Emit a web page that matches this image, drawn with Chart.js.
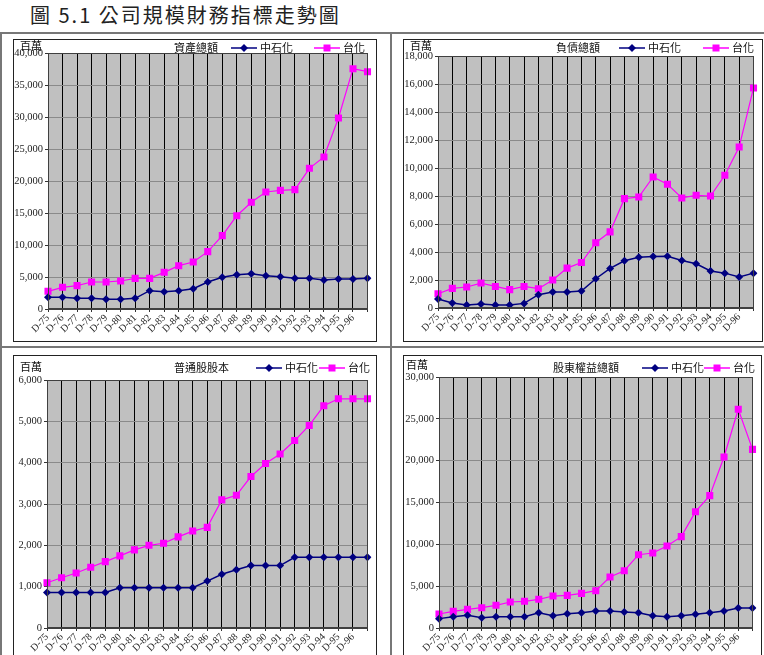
<!DOCTYPE html>
<html>
<head>
<meta charset="utf-8">
<script src="https://cdn.jsdelivr.net/npm/chart.js@4"></script>
<style>
  body { margin: 0; width: 764px; height: 655px; overflow: hidden; background: #fff; position: relative;
         font-family: "Noto Sans CJK TC", sans-serif; }
  #title { position: absolute; left: 30px; top: 2px; font-size: 20px; letter-spacing: 2px; color: #222;
           line-height: 26px; white-space: nowrap; }
  .ln { position: absolute; background: #777; }
  .box { position: absolute; border: 1px solid #222; background: #fff; }
  .box canvas { display: block; }
</style>
</head>
<body>
<div id="title">圖 5.1 公司規模財務指標走勢圖</div>
<div class="ln" style="left:0;top:32px;width:764px;height:2px"></div>
<div class="ln" style="left:0;top:346px;width:764px;height:2px"></div>
<div class="ln" style="left:0;top:32px;width:2px;height:623px"></div>
<div class="ln" style="left:390px;top:32px;width:2px;height:623px"></div>

<div class="box" style="left:13px;top:39px;width:362px;height:301px"><canvas id="assetChart" width="362" height="301"></canvas></div>
<div class="box" style="left:403px;top:39px;width:358px;height:301px"><canvas id="debtChart" width="358" height="301"></canvas></div>
<div class="box" style="left:13px;top:355px;width:362px;height:318px"><canvas id="stockChart" width="362" height="318"></canvas></div>
<div class="box" style="left:403px;top:355px;width:357px;height:318px"><canvas id="equityChart" width="357" height="318"></canvas></div>

<script>
// Catégories (dernier point sans étiquette)
const labels = ["D-75", "D-76", "D-77", "D-78", "D-79", "D-80", "D-81", "D-82", "D-83", "D-84", "D-85",
  "D-86", "D-87", "D-88", "D-89", "D-90", "D-91", "D-92", "D-93", "D-94", "D-95", "D-96", ""];
const seriesNames = ["中石化", "台化"];

// 資產總額
const assetCpdc = [1820, 1820, 1670, 1670, 1510, 1510, 1670, 2860, 2710, 2860, 3180, 4220,
  4950, 5360, 5520, 5210, 5050, 4790, 4790, 4530, 4690, 4690, 4790];
const assetFcfc = [2760, 3390, 3650, 4220, 4220, 4380, 4790, 4790, 5730, 6770, 7340, 8960,
  11460, 14580, 16670, 18280, 18540, 18650, 21980, 23750, 29840, 37550, 37080];

// 負債總額
const debtCpdc = [640, 360, 210, 290, 210, 210, 330, 950, 1140, 1140, 1210, 2090,
  2830, 3370, 3630, 3680, 3700, 3400, 3160, 2640, 2490, 2210, 2490];
const debtFcfc = [1020, 1400, 1500, 1780, 1540, 1310, 1540, 1380, 2000, 2850, 3250, 4660,
  5440, 7810, 7930, 9360, 8840, 7860, 8050, 8000, 9480, 11500, 15720];

// 普通股股本
const stockCpdc = [860, 860, 860, 860, 860, 975, 975, 975, 975, 975, 975, 1135,
  1300, 1410, 1510, 1510, 1510, 1710, 1710, 1710, 1710, 1710, 1710];
const stockFcfc = [1095, 1215, 1330, 1470, 1605, 1745, 1890, 2000, 2050, 2205, 2345, 2435,
  3100, 3210, 3665, 3980, 4210, 4535, 4900, 5375, 5545, 5545, 5545];

// 股東權益總額
const equityCpdc = [1120, 1350, 1510, 1240, 1350, 1350, 1350, 1830, 1470, 1710, 1830, 2030,
  2030, 1910, 1830, 1470, 1350, 1470, 1630, 1830, 2030, 2390, 2390];
const equityFcfc = [1670, 1990, 2230, 2430, 2710, 3110, 3190, 3430, 3820, 3900, 4140, 4460,
  6100, 6850, 8760, 8960, 9800, 10920, 13900, 15820, 20440, 26140, 21350];

// Fond gris, cadre, titre et légende de chaque graphique
const panelDeco = {
  id: "panelDeco",
  beforeDraw(chart) {
    const { ctx, chartArea: a } = chart;
    ctx.save();
    ctx.fillStyle = "#c0c0c0";
    ctx.fillRect(a.left, a.top, a.right - a.left, a.bottom - a.top);
    ctx.restore();
  },
  afterDraw(chart, args, o) {
    const { ctx, chartArea: a } = chart;
    ctx.save();
    ctx.strokeStyle = "#404040";
    ctx.lineWidth = 1;
    ctx.strokeRect(Math.round(a.left) + 0.5, Math.round(a.top) + 0.5,
      Math.round(a.right - a.left) - 1, Math.round(a.bottom - a.top) - 1);

    ctx.fillStyle = "#111";
    ctx.textBaseline = "middle";
    ctx.font = '11px "Noto Sans CJK TC"';
    ctx.fillText("百萬", o.unitX, o.unitY);
    ctx.fillText(o.title, o.titleX, o.rowY);

    chart.data.datasets.forEach((ds, i) => {
      const x = o.legendX[i], y = o.rowY;
      ctx.strokeStyle = ds.borderColor;
      ctx.lineWidth = 1.5;
      ctx.beginPath();
      ctx.moveTo(x, y);
      ctx.lineTo(x + 26, y);
      ctx.stroke();
      ctx.fillStyle = ds.borderColor;
      ctx.beginPath();
      if (ds.pointStyle === "rectRot") {
        ctx.moveTo(x + 13, y - 4); ctx.lineTo(x + 17, y); ctx.lineTo(x + 13, y + 4); ctx.lineTo(x + 9, y);
      } else {
        ctx.rect(x + 9.5, y - 3.5, 7, 7);
      }
      ctx.fill();
      ctx.fillStyle = "#111";
      ctx.fillText(ds.label, x + 29, y);
    });
    ctx.restore();
  }
};

function makeChart(id, cpdc, fcfc, yMax, yStep, deco, pad, yWidth, xHeight) {
  return new Chart(document.getElementById(id), {
    type: "line",
    data: {
      labels: labels,
      datasets: [{
        label: seriesNames[0],
        data: cpdc,
        borderColor: "#000080",
        backgroundColor: "#000080",
        borderWidth: 1.5,
        pointStyle: "rectRot",
        pointRadius: 4,
        pointBorderWidth: 0,
        tension: 0
      }, {
        label: seriesNames[1],
        data: fcfc,
        borderColor: "#ff00ff",
        backgroundColor: "#ff00ff",
        borderWidth: 1.2,
        pointStyle: "rect",
        pointRadius: 5,
        pointBorderWidth: 0,
        tension: 0
      }]
    },
    options: {
      responsive: false,
      animation: false,
      layout: { padding: pad },
      plugins: { legend: { display: false }, tooltip: { enabled: false }, panelDeco: deco },
      scales: {
        x: {
          offset: false,
          grid: { color: "#000", lineWidth: 1, tickLength: 3, tickColor: "#333" },
          border: { color: "#404040" },
          ticks: {
            autoSkip: false, minRotation: 45, maxRotation: 45, padding: 0,
            color: "#222", font: { family: "Liberation Serif", size: 10 }
          },
          afterFit: s => { s.height = xHeight; }
        },
        y: {
          min: 0, max: yMax,
          grid: { color: "#8a8a8a", lineWidth: 1, tickLength: 3, tickColor: "#333" },
          border: { color: "#404040" },
          ticks: {
            stepSize: yStep, padding: 2, color: "#222",
            font: { family: "Liberation Serif", size: 10.5 },
            callback: v => v.toLocaleString("en-US")
          },
          afterFit: s => { s.width = yWidth; }
        }
      }
    },
    plugins: [panelDeco]
  });
}

document.addEventListener("DOMContentLoaded", () => {
  makeChart("assetChart", assetCpdc, assetFcfc, 40000, 5000,
    { title: "資產總額", unitX: 6, unitY: 6, titleX: 160, rowY: 8, legendX: [217, 300] },
    { top: 13, right: 6, left: 0, bottom: 0 }, 34, 32);
  makeChart("debtChart", debtCpdc, debtFcfc, 18000, 2000,
    { title: "負債總額", unitX: 6, unitY: 6, titleX: 152, rowY: 8, legendX: [215, 299] },
    { top: 16, right: 6, left: 0, bottom: 0 }, 34, 33);
  makeChart("stockChart", stockCpdc, stockFcfc, 6000, 1000,
    { title: "普通股股本", unitX: 6, unitY: 11, titleX: 160, rowY: 12, legendX: [242, 305] },
    { top: 24, right: 6, left: 0, bottom: 0 }, 33, 46);
  makeChart("equityChart", equityCpdc, equityFcfc, 30000, 5000,
    { title: "股東權益總額", unitX: 2, unitY: 9, titleX: 149, rowY: 12, legendX: [238, 300] },
    { top: 21, right: 7, left: 0, bottom: 0 }, 35, 46);
});
</script>
</body>
</html>
